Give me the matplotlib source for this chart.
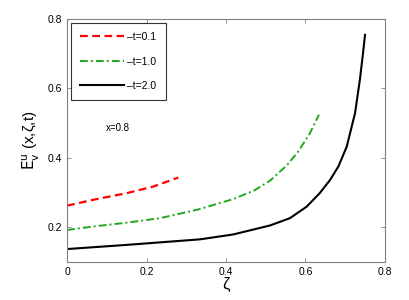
import matplotlib
matplotlib.use("Agg")
import matplotlib.pyplot as plt

plt.rcParams['font.family'] = ['Liberation Sans', 'DejaVu Sans']

zeta_t01 = [0.0, 0.066, 0.150, 0.217, 0.280]
E_t01 = [0.262, 0.279, 0.298, 0.317, 0.343]

zeta_t10 = [0.0, 0.066, 0.150, 0.234, 0.330, 0.418, 0.470, 0.511, 0.553, 0.582, 0.611, 0.634]
E_t10 = [0.192, 0.202, 0.213, 0.226, 0.251, 0.281, 0.305, 0.334, 0.378, 0.418, 0.470, 0.524]

zeta_t20 = [0.0, 0.150, 0.335, 0.418, 0.511, 0.561, 0.603, 0.636, 0.662, 0.683,
            0.704, 0.725, 0.737, 0.745, 0.750]
E_t20 = [0.137, 0.149, 0.165, 0.179, 0.205, 0.226, 0.259, 0.298, 0.336, 0.375,
         0.432, 0.529, 0.624, 0.701, 0.754]

labels = ['\u2013t=0.1', '\u2013t=1.0', '\u2013t=2.0']
xticks = [0, 0.2, 0.4, 0.6, 0.8]
xticklabels = ['0', '0.2', '0.4', '0.6', '0.8']
yticks = [0.2, 0.4, 0.6, 0.8]
yticklabels = ['0.2', '0.4', '0.6', '0.8']

fig = plt.figure(figsize=(4.09, 3.0), dpi=100)
ax = fig.add_axes([0.164, 0.127, 0.777, 0.81])

ax.plot(zeta_t01, E_t01, color='#ff0000', linestyle=(0, (3.5, 2)), lw=1.6, label=labels[0])
ax.plot(zeta_t10, E_t10, color='#1fa81f', linestyle=(0, (4, 1.6, 1, 1.6)), lw=1.4, label=labels[1])
ax.plot(zeta_t20, E_t20, color='black', linestyle='-', lw=1.5, label=labels[2])

ax.set_xlim(0, 0.8)
ax.set_ylim(0.1, 0.8)
ax.set_xticks(xticks)
ax.set_xticklabels(xticklabels)
ax.set_yticks(yticks)
ax.set_yticklabels(yticklabels)
ax.tick_params(direction='in', top=True, right=True, labelsize=7.5, length=3, color='#808080', width=0.6)
for s in ax.spines.values():
    s.set_color('#808080')
    s.set_linewidth(0.8)

ax.set_xlabel('\u03b6', fontsize=12, labelpad=0)
ax.set_ylabel(r'$\mathrm{E}_{\mathrm{v}}^{\mathrm{u}}$' + ' (x,\u03b6,t)', fontsize=11, labelpad=4)

ax.text(0.128, 0.486, 'x=0.8', fontsize=7, ha='center', va='center')

leg = ax.legend(loc='upper left', bbox_to_anchor=(0.012, 0.985), fontsize=7.5,
                frameon=True, fancybox=False, edgecolor='black', labelspacing=1.4,
                handlelength=4.2, handletextpad=0.3, borderpad=0.9, borderaxespad=0)
leg.get_frame().set_linewidth(0.8)

fig.savefig('out.png', dpi=100)
